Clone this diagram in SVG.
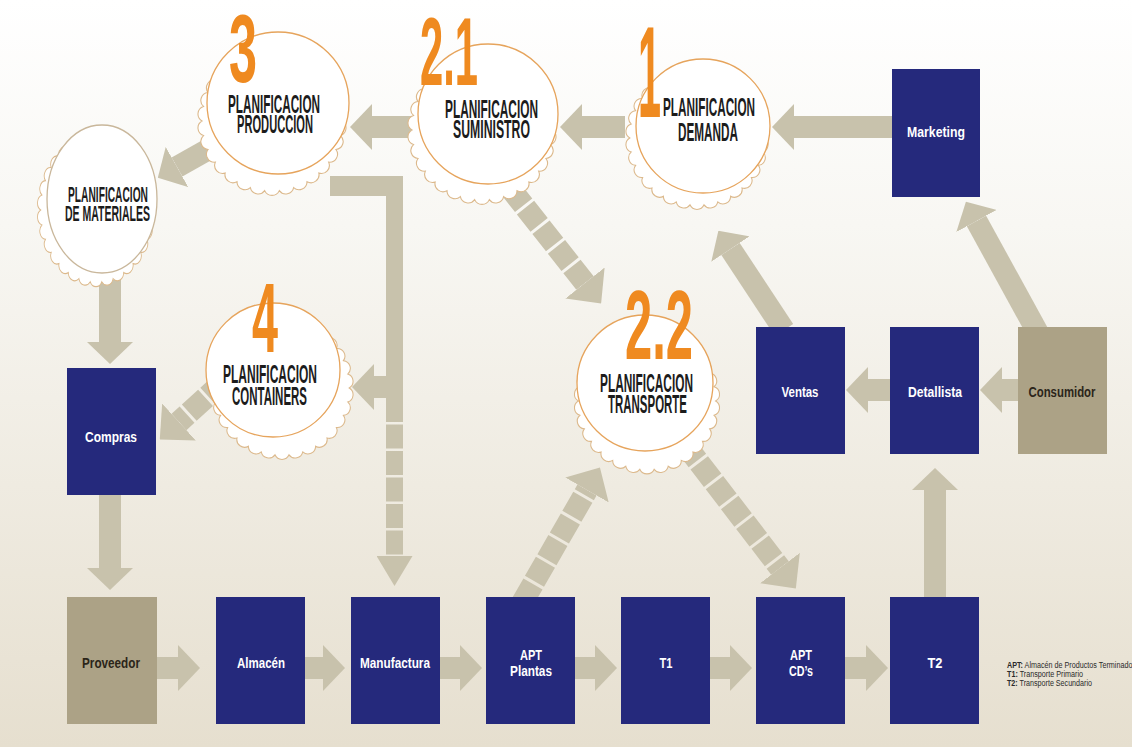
<svg xmlns="http://www.w3.org/2000/svg" xmlns:xlink="http://www.w3.org/1999/xlink" width="1132" height="747" viewBox="0 0 1132 747">
  <defs>
    <linearGradient id="bg" x1="0" y1="0" x2="0" y2="1">
      <stop offset="0" stop-color="#ffffff"/>
      <stop offset="0.3" stop-color="#f8f7f3"/>
      <stop offset="1" stop-color="#e6dfcf"/>
    </linearGradient>
    <!-- crimped bottle-cap skirt: radius 70 with 30 rounded teeth -->
    <path id="crown" d="M70,0 A8,8 0 0 1 68.47,14.55 A8,8 0 0 1 63.95,28.47 A8,8 0 0 1 56.63,41.15 A8,8 0 0 1 46.84,52.02 A8,8 0 0 1 35,60.62 A8,8 0 0 1 21.63,66.58 A8,8 0 0 1 7.32,69.62 A8,8 0 0 1 -7.32,69.62 A8,8 0 0 1 -21.63,66.58 A8,8 0 0 1 -35,60.62 A8,8 0 0 1 -46.84,52.02 A8,8 0 0 1 -56.63,41.15 A8,8 0 0 1 -63.95,28.47 A8,8 0 0 1 -68.47,14.55 A8,8 0 0 1 -70,0 A8,8 0 0 1 -68.47,-14.55 A8,8 0 0 1 -63.95,-28.47 A8,8 0 0 1 -56.63,-41.15 A8,8 0 0 1 -46.84,-52.02 A8,8 0 0 1 -35,-60.62 A8,8 0 0 1 -21.63,-66.58 A8,8 0 0 1 -7.32,-69.62 A8,8 0 0 1 7.32,-69.62 A8,8 0 0 1 21.63,-66.58 A8,8 0 0 1 35,-60.62 A8,8 0 0 1 46.84,-52.02 A8,8 0 0 1 56.63,-41.15 A8,8 0 0 1 63.95,-28.47 A8,8 0 0 1 68.47,-14.55 A8,8 0 0 1 70,0 Z"/>
    <marker id="head" markerUnits="userSpaceOnUse" markerWidth="22" markerHeight="46" viewBox="0 0 22 46" refX="0" refY="23" orient="auto">
      <path d="M0,0 L22,23 L0,46 Z" fill="#c8c2ac"/>
    </marker>
    <marker id="headLong" markerUnits="userSpaceOnUse" markerWidth="26" markerHeight="50" viewBox="0 0 26 50" refX="0" refY="25" orient="auto">
      <path d="M0,0 L26,25 L0,50 Z" fill="#c8c2ac"/>
    </marker>
    <marker id="headTall" markerUnits="userSpaceOnUse" markerWidth="30" markerHeight="36" viewBox="0 0 30 36" refX="0" refY="18" orient="auto">
      <path d="M0,0 L30,18 L0,36 Z" fill="#c8c2ac"/>
    </marker>
    <style>
      .arrow { stroke: #c8c2ac; stroke-width: 22; fill: none; marker-end: url(#head); }
      .seg { stroke-dasharray: 22 3; marker-end: url(#headLong); }
      .bar { fill: #c8c2ac; }
      .crown { fill: #ffffff; stroke: #dcb98c; stroke-width: 1.1; }
      .lid { fill: #ffffff; stroke: #e6a45c; stroke-width: 1.3; }
      .num { font-family: "Liberation Sans", Arial, sans-serif; font-weight: bold; fill: #ef8a20; }
      .cap { font-family: "Liberation Sans", Arial, sans-serif; font-weight: bold; font-size: 25px; fill: #1c1c1c; }
      .navy { fill: #25297c; }
      .taupe { fill: #aca286; }
      .lbl { font-family: "Liberation Sans", Arial, sans-serif; font-weight: bold; font-size: 15px; fill: #ffffff; text-anchor: middle; }
      .lbl.dark { fill: #2b2519; }
      .legend { font-family: "Liberation Sans", Arial, sans-serif; font-size: 8.5px; fill: #2a2a2a; }
    </style>
  </defs>

  <rect width="1132" height="747" fill="url(#bg)"/>

  <g id="connectors">
    <!-- bottom row flow -->
    <line class="arrow" x1="157" y1="668" x2="178" y2="668"/>
    <line class="arrow" x1="305" y1="668" x2="323" y2="668"/>
    <line class="arrow" x1="440" y1="668" x2="460" y2="668"/>
    <line class="arrow" x1="575" y1="668" x2="595" y2="668"/>
    <line class="arrow" x1="710" y1="668" x2="730" y2="668"/>
    <line class="arrow" x1="845" y1="668" x2="866" y2="668"/>
    <!-- T2 up to Detallista -->
    <line class="arrow" x1="935" y1="600" x2="935" y2="490"/>
    <!-- Consumidor -> Detallista -> Ventas -->
    <line class="arrow" x1="1020" y1="390" x2="1002" y2="390"/>
    <line class="arrow" x1="890" y1="390" x2="868" y2="390"/>
    <!-- Consumidor -> Marketing -->
    <line class="arrow" x1="1038" y1="333" x2="976.5" y2="221"/>
    <!-- Ventas -> demand planning -->
    <line class="arrow" x1="784" y1="330" x2="730.5" y2="249"/>
    <!-- top row: Marketing -> 1 -> 2.1 -> 3 -->
    <line class="arrow" x1="892" y1="127" x2="794" y2="127"/>
    <line class="arrow" x1="625" y1="127" x2="582" y2="127"/>
    <line class="arrow" x1="420" y1="127" x2="372" y2="127"/>
    <!-- 3 -> materials planning -->
    <line class="arrow" x1="232" y1="136" x2="177" y2="167"/>
    <!-- materials -> Compras -> Proveedor -->
    <line class="arrow" x1="110" y1="280" x2="110" y2="342"/>
    <line class="arrow" x1="110" y1="494" x2="110" y2="568"/>
    <!-- 3 -> containers / Manufactura elbow -->
    <rect class="bar" x="330" y="176" width="73" height="20"/>
    <rect class="bar" x="386" y="176" width="17" height="222"/>
    <line class="arrow" x1="395" y1="387" x2="374" y2="387"/>
    <line class="arrow" x1="394.5" y1="398" x2="394.5" y2="556" style="stroke-width:17;stroke-dasharray:24 2.5;marker-end:url(#headTall)"/>
    <!-- 4 -> Compras -->
    <line class="arrow seg" x1="224" y1="381" x2="179" y2="422"/>
    <!-- 2.1 -> 2.2 -->
    <line class="arrow seg" x1="510" y1="188" x2="585" y2="283"/>
    <!-- APT Plantas -> 2.2 -->
    <line class="arrow seg" x1="522" y1="603" x2="587" y2="490"/>
    <!-- 2.2 -> APT CD's -->
    <line class="arrow seg" x1="684" y1="443" x2="780" y2="568"/>
  </g>

  <g id="cap-demanda">
    <use xlink:href="#crown" class="crown" transform="translate(697,138) scale(0.96)"/>
    <circle class="lid" cx="703" cy="126" r="67"/>
    <text class="num" x="638" y="117" font-size="130" textLength="23" lengthAdjust="spacingAndGlyphs">1</text>
    <text class="cap" x="663" y="116" textLength="92" lengthAdjust="spacingAndGlyphs">PLANIFICACION</text>
    <text class="cap" x="678" y="141" textLength="60" lengthAdjust="spacingAndGlyphs">DEMANDA</text>
  </g>

  <g id="cap-suministro">
    <use xlink:href="#crown" class="crown" transform="translate(482,130)"/>
    <circle class="lid" cx="488" cy="114" r="70"/>
    <text class="num" x="420" y="85" font-size="96" textLength="58" lengthAdjust="spacingAndGlyphs">2.1</text>
    <text class="cap" x="445" y="118" textLength="93" lengthAdjust="spacingAndGlyphs">PLANIFICACION</text>
    <text class="cap" x="453" y="138" textLength="77" lengthAdjust="spacingAndGlyphs">SUMINISTRO</text>
  </g>

  <g id="cap-produccion">
    <use xlink:href="#crown" class="crown" transform="translate(272,121)"/>
    <circle class="lid" cx="278" cy="103" r="71"/>
    <text class="num" x="229" y="82" font-size="96" textLength="28" lengthAdjust="spacingAndGlyphs">3</text>
    <text class="cap" x="228" y="113" textLength="92" lengthAdjust="spacingAndGlyphs">PLANIFICACION</text>
    <text class="cap" x="237" y="133" textLength="76" lengthAdjust="spacingAndGlyphs">PRODUCCION</text>
  </g>

  <g id="cap-materiales">
    <use xlink:href="#crown" class="crown" transform="translate(96,210) scale(0.79,1.03)"/>
    <ellipse class="lid" cx="102" cy="199" rx="55" ry="74" style="stroke:#c9b79b"/>
    <text class="cap" x="68" y="202" textLength="80" lengthAdjust="spacingAndGlyphs" style="font-size:22px">PLANIFICACION</text>
    <text class="cap" x="65" y="221" textLength="85" lengthAdjust="spacingAndGlyphs" style="font-size:22px">DE MATERIALES</text>
  </g>

  <g id="cap-containers">
    <use xlink:href="#crown" class="crown" transform="translate(282,388) scale(0.96)"/>
    <circle class="lid" cx="273" cy="370" r="67"/>
    <text class="num" x="252" y="352" font-size="98" textLength="26" lengthAdjust="spacingAndGlyphs">4</text>
    <text class="cap" x="223" y="383" textLength="94" lengthAdjust="spacingAndGlyphs">PLANIFICACION</text>
    <text class="cap" x="232" y="405" textLength="75" lengthAdjust="spacingAndGlyphs">CONTAINERS</text>
  </g>

  <g id="cap-transporte">
    <use xlink:href="#crown" class="crown" transform="translate(647,401) scale(0.98)"/>
    <circle class="lid" cx="645" cy="383" r="68"/>
    <text class="num" x="625" y="359" font-size="98" textLength="68" lengthAdjust="spacingAndGlyphs">2.2</text>
    <text class="cap" x="600" y="392" textLength="93" lengthAdjust="spacingAndGlyphs">PLANIFICACION</text>
    <text class="cap" x="608" y="413" textLength="79" lengthAdjust="spacingAndGlyphs">TRANSPORTE</text>
  </g>

  <g id="marketing">
    <rect class="navy" x="892" y="69" width="88" height="128"/>
    <text class="lbl" x="936" y="137" textLength="58" lengthAdjust="spacingAndGlyphs">Marketing</text>
  </g>
  <g id="ventas">
    <rect class="navy" x="756" y="327" width="89" height="127"/>
    <text class="lbl" x="800" y="397" textLength="37" lengthAdjust="spacingAndGlyphs">Ventas</text>
  </g>
  <g id="detallista">
    <rect class="navy" x="890" y="327" width="89" height="127"/>
    <text class="lbl" x="935" y="397" textLength="54" lengthAdjust="spacingAndGlyphs">Detallista</text>
  </g>
  <g id="consumidor">
    <rect class="taupe" x="1018" y="327" width="89" height="127"/>
    <text class="lbl dark" x="1062" y="397" textLength="67" lengthAdjust="spacingAndGlyphs">Consumidor</text>
  </g>
  <g id="compras">
    <rect class="navy" x="67" y="368" width="89" height="127"/>
    <text class="lbl" x="111" y="442" textLength="52" lengthAdjust="spacingAndGlyphs">Compras</text>
  </g>
  <g id="proveedor">
    <rect class="taupe" x="67" y="597" width="90" height="127"/>
    <text class="lbl dark" x="111" y="668" textLength="58" lengthAdjust="spacingAndGlyphs">Proveedor</text>
  </g>
  <g id="almacen">
    <rect class="navy" x="216" y="597" width="89" height="127"/>
    <text class="lbl" x="261" y="668" textLength="48" lengthAdjust="spacingAndGlyphs">Almacén</text>
  </g>
  <g id="manufactura">
    <rect class="navy" x="351" y="597" width="89" height="127"/>
    <text class="lbl" x="395" y="668" textLength="70" lengthAdjust="spacingAndGlyphs">Manufactura</text>
  </g>
  <g id="apt-plantas">
    <rect class="navy" x="486" y="597" width="89" height="127"/>
    <text class="lbl" x="531" y="660" textLength="22" lengthAdjust="spacingAndGlyphs">APT</text>
    <text class="lbl" x="531" y="676" textLength="42" lengthAdjust="spacingAndGlyphs">Plantas</text>
  </g>
  <g id="t1">
    <rect class="navy" x="621" y="597" width="89" height="127"/>
    <text class="lbl" x="666" y="668" textLength="13" lengthAdjust="spacingAndGlyphs">T1</text>
  </g>
  <g id="apt-cds">
    <rect class="navy" x="756" y="597" width="89" height="127"/>
    <text class="lbl" x="801" y="660" textLength="22" lengthAdjust="spacingAndGlyphs">APT</text>
    <text class="lbl" x="801" y="676" textLength="24" lengthAdjust="spacingAndGlyphs">CD’s</text>
  </g>
  <g id="t2">
    <rect class="navy" x="890" y="597" width="89" height="127"/>
    <text class="lbl" x="935" y="668" textLength="15" lengthAdjust="spacingAndGlyphs">T2</text>
  </g>

  <g id="legend" class="legend">
    <text x="1007" y="668" textLength="129" lengthAdjust="spacingAndGlyphs"><tspan font-weight="bold">APT:</tspan> Almacén de Productos Terminados</text>
    <text x="1007" y="677" textLength="76" lengthAdjust="spacingAndGlyphs"><tspan font-weight="bold">T1:</tspan> Transporte Primario</text>
    <text x="1007" y="686" textLength="85" lengthAdjust="spacingAndGlyphs"><tspan font-weight="bold">T2:</tspan> Transporte Secundario</text>
  </g>
</svg>
